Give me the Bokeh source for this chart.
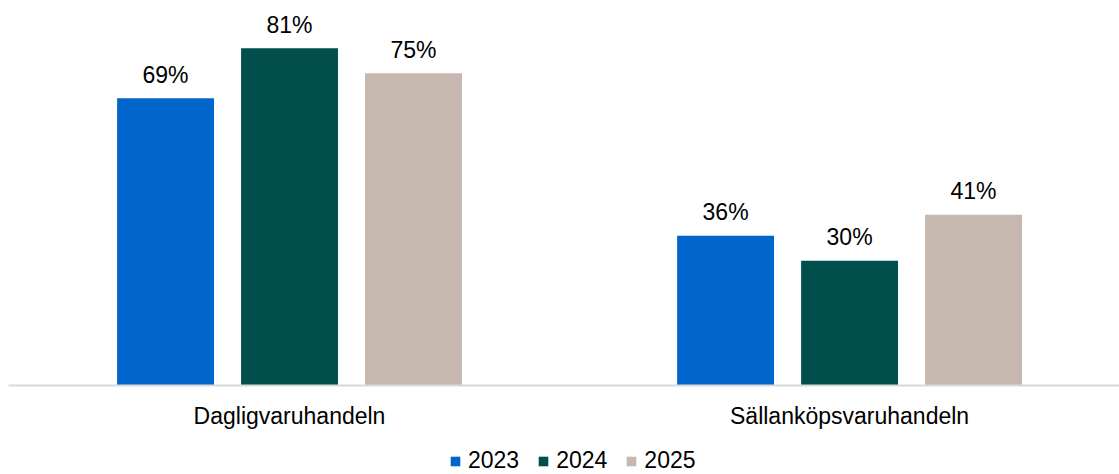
from bokeh.plotting import figure
from bokeh.models import ColumnDataSource, Legend, LegendItem, FixedTicker, Range1d
from bokeh.layouts import column
from bokeh.core.properties import value
from bokeh.embed import file_html
from bokeh.resources import INLINE
import numpy as np

groups = ["Dagligvaruhandeln", "Sällanköpsvaruhandeln"]
years = ["2023", "2024", "2025"]
v2023 = [69, 36]
v2024 = [81, 30]
v2025 = [75, 41]
colors = ["#0066CC", "#004F4D", "#C6B8AE"]

series = [v2023, v2024, v2025]
offsets = [-0.2214, 0.0, 0.2214]
bar_w = 0.173
FONT = "Liberation Sans"
FS = "23px"

p = figure(width=1119, height=440, output_backend="svg", toolbar_location=None,
           x_range=Range1d(-0.0018, 1.982), y_range=Range1d(0, 92.5),
           min_border_left=8, min_border_right=0, min_border_top=0, min_border_bottom=55)
p.outline_line_color = None
p.background_fill_color = "white"
p.border_fill_color = "white"
p.xgrid.visible = False
p.ygrid.visible = False
p.yaxis.visible = False

# legend strip
lf = figure(width=1119, height=34, output_backend="svg", toolbar_location=None,
            x_range=Range1d(0, 1), y_range=Range1d(0, 1),
            min_border_left=0, min_border_right=0, min_border_top=0, min_border_bottom=0)
lf.outline_line_color = None
lf.axis.visible = False
lf.grid.visible = False

centers = np.arange(len(groups)) + 0.5
items = []
for yr, vals, off, col in zip(years, series, offsets, colors):
    src = ColumnDataSource(dict(x=centers + off, top=vals, lab=[f"{v}%" for v in vals]))
    p.vbar(x="x", top="top", width=bar_w, bottom=0, source=src,
           fill_color=col, line_color=None)
    p.text(x="x", y="top", text="lab", source=src, text_align="center",
           text_baseline="alphabetic", y_offset=-23.5, text_font=value(FONT),
           text_font_size=FS, text_color="#000000")
    lr = lf.vbar(x="x", top="top", width=bar_w, bottom=0, source=src,
                 fill_color=col, line_color=None, visible=False)
    items.append(LegendItem(label=yr, renderers=[lr]))

ax = p.xaxis[0]
ax.ticker = FixedTicker(ticks=list(centers))
ax.major_label_overrides = {float(c): g for c, g in zip(centers, groups)}
ax.major_tick_line_color = None
ax.minor_tick_line_color = None
ax.major_tick_out = 0
ax.major_tick_in = 0
ax.axis_line_color = "#D9D9D9"
ax.axis_line_width = 2
ax.major_label_standoff = 17
ax.major_label_text_font = FONT
ax.major_label_text_font_size = FS
ax.major_label_text_color = "#000000"

legend = Legend(items=items, orientation="horizontal", location=(441, 0),
                glyph_width=12, glyph_height=12, label_standoff=7, spacing=18,
                padding=0, margin=0, border_line_color=None, background_fill_alpha=0,
                inactive_fill_alpha=0, click_policy="none",
                label_text_font=FONT, label_text_font_size=FS, label_height=12,
                label_text_color="#000000")
lf.add_layout(legend, "center")

layout = column(p, lf, spacing=0)
open("out.html", "w").write(file_html(layout, INLINE))
